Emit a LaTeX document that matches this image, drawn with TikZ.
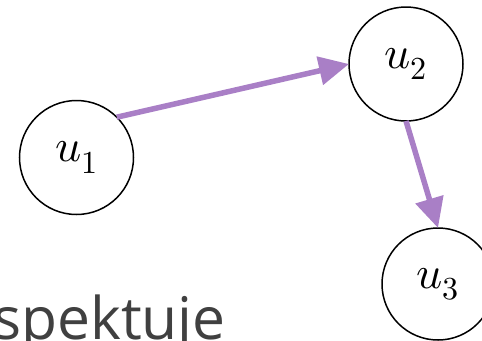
\documentclass[tikz,border=0pt]{standalone}
\usepackage{fontspec}
\usepackage{unicode-math}
\setmainfont{Open Sans}
\setmathfont{Latin Modern Math}
\usetikzlibrary{arrows.meta}
\definecolor{edgepurple}{HTML}{A97FC6}
\definecolor{textgray}{HTML}{404040}
\begin{document}
\begin{tikzpicture}[x=1bp,y=-1bp,
  vertex/.style={draw=black, line width=1.5bp, circle, minimum size=114bp,
    inner sep=0pt, outer sep=0pt, font=\fontsize{46}{46}\selectfont},
  link/.style={draw=edgepurple, line width=5.5bp,
    -{Triangle[length=30bp,width=28bp]}}]
  \useasboundingbox (0,0) rectangle (482,340);
  \clip (0,0) rectangle (482,340);
  % vertices
  \node[vertex] (u1) at (76.5,157.5) {$u_1$};
  \node[vertex] (u2) at (406,64) {$u_2$};
  \node[vertex, minimum size=112bp] (u3) at (438,284) {$u_3$};
  % directed edges
  \draw[link] (u1.north east) -- (u2.west);
  \draw[link] (u2.south) -- (u3.north);
  % caption word running off the lower edge
  \node[anchor=base west, inner sep=0pt, text=textgray,
    font=\fontsize{59}{59}\selectfont] (word) at (-7,339) {spektuje};
\end{tikzpicture}
\end{document}
